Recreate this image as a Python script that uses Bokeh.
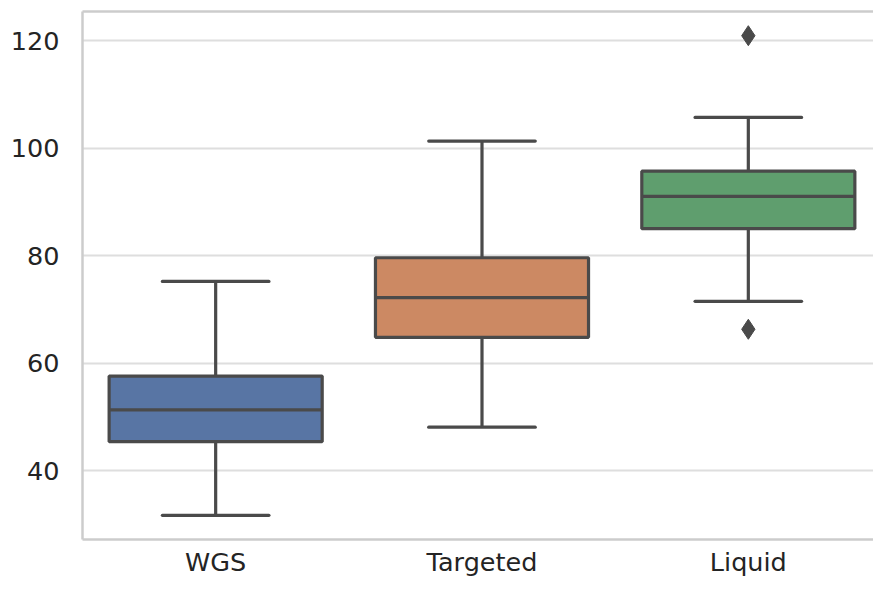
from bokeh.plotting import figure
from bokeh.models import ColumnDataSource, Range1d, LinearAxis, FixedTicker
from bokeh.transform import dodge
from bokeh.embed import file_html
from bokeh.resources import INLINE

# Box statistics per sequencing approach
categories = ["WGS", "Targeted", "Liquid"]
whisker_low = [31.7, 48.1, 71.5]
q1 = [45.4, 64.8, 85.0]
median = [51.3, 72.2, 91.0]
q3 = [57.6, 79.6, 95.7]
whisker_high = [75.2, 101.3, 105.7]
box_colors = ["#5875a4", "#cc8963", "#5f9e6e"]

# Points beyond the whiskers
outlier_cats = ["Liquid", "Liquid"]
outlier_vals = [120.9, 66.3]

y_ticks = [40, 60, 80, 100, 120]

LINE = "#4a4a4a"
SPINE = "#cccccc"
TEXT = "#242424"
FONT = "DejaVu Sans"

# each category sits at the centre of a unit-wide slot
pos = {c: i + 0.5 for i, c in enumerate(categories)}

src = ColumnDataSource(dict(
    x=[pos[c] for c in categories], lo=whisker_low, q1=q1, med=median, q3=q3,
    hi=whisker_high, color=box_colors,
))
out_src = ColumnDataSource(dict(x=[pos[c] for c in outlier_cats], val=outlier_vals))

p = figure(
    width=873, height=580,
    x_range=Range1d(0.0, 2.97), y_range=Range1d(27.2, 125.4),
    output_backend="svg", toolbar_location=None,
    min_border_left=82, min_border_right=0, min_border_top=11, min_border_bottom=41,
)
p.outline_line_color = None
p.background_fill_color = "white"
p.border_fill_color = "white"

LW = 3.2

# whiskers
p.segment(x0="x", y0="hi", x1="x", y1="q3", source=src, line_color=LINE, line_width=LW)
p.segment(x0="x", y0="lo", x1="x", y1="q1", source=src, line_color=LINE, line_width=LW)
# caps
p.segment(x0=dodge("x", -0.2), y0="hi", x1=dodge("x", 0.2), y1="hi",
          source=src, line_color=LINE, line_width=LW, line_cap="round")
p.segment(x0=dodge("x", -0.2), y0="lo", x1=dodge("x", 0.2), y1="lo",
          source=src, line_color=LINE, line_width=LW, line_cap="round")
# boxes
p.vbar(x="x", bottom="q1", top="q3", width=0.8, source=src,
       fill_color="color", line_color=LINE, line_width=LW)
# medians
p.segment(x0=dodge("x", -0.4), y0="med", x1=dodge("x", 0.4), y1="med",
          source=src, line_color=LINE, line_width=LW)
# outliers
p.scatter(x="x", y="val", source=out_src, marker="diamond", size=20,
          fill_color=LINE, line_color=LINE)

# axes styling
for ax in (p.xaxis[0], p.yaxis[0]):
    ax.axis_line_color = SPINE
    ax.axis_line_width = 2.5
    ax.major_tick_line_color = None
    ax.minor_tick_line_color = None
    ax.major_label_text_font = FONT
    ax.major_label_text_font_size = "25.5px"
    ax.major_label_text_color = TEXT

p.yaxis.ticker = FixedTicker(ticks=y_ticks)
p.yaxis.major_label_standoff = 17
p.xaxis.ticker = FixedTicker(ticks=[pos[c] for c in categories])
p.xaxis.major_label_overrides = {pos[c]: c for c in categories}
p.xaxis.major_label_standoff = 1

top = LinearAxis(axis_line_color=SPINE, axis_line_width=2.5,
                 major_tick_line_color=None, minor_tick_line_color=None,
                 major_label_text_font_size="0px", major_label_standoff=0,
                 ticker=FixedTicker(ticks=[]))
p.add_layout(top, "above")

p.xgrid.grid_line_color = None
p.ygrid.grid_line_color = "#dedede"
p.ygrid.grid_line_width = 2

open("out.html", "w").write(file_html(p, INLINE))
